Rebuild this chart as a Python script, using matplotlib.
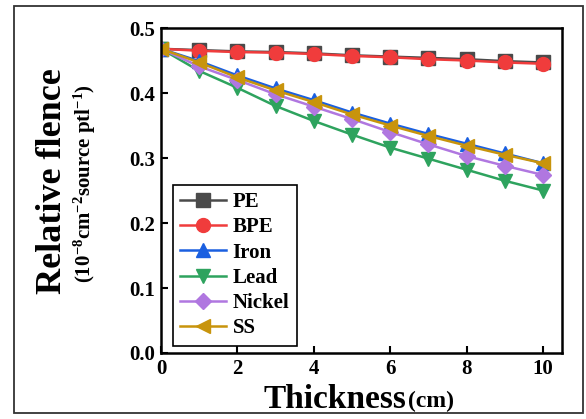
import numpy as np
import matplotlib.pyplot as plt
from matplotlib.patches import Rectangle

plt.rcParams['font.family'] = ['Liberation Serif', 'DejaVu Serif']
plt.rcParams['font.weight'] = 'bold'
plt.rcParams['mathtext.fontset'] = 'custom'
plt.rcParams['mathtext.rm'] = 'Liberation Serif:bold'
plt.rcParams['mathtext.it'] = 'Liberation Serif:bold'
plt.rcParams['mathtext.bf'] = 'Liberation Serif:bold'

thickness = [0, 1, 2, 3, 4, 5, 6, 7, 8, 9, 10]
pe = [0.468, 0.466, 0.464, 0.463, 0.461, 0.458, 0.456, 0.454, 0.452, 0.449, 0.447]
bpe = [0.468, 0.465, 0.463, 0.462, 0.460, 0.457, 0.455, 0.452, 0.450, 0.447, 0.445]
iron = [0.468, 0.449, 0.427, 0.407, 0.389, 0.370, 0.353, 0.337, 0.322, 0.307, 0.292]
lead = [0.468, 0.434, 0.408, 0.380, 0.357, 0.336, 0.316, 0.299, 0.282, 0.265, 0.250]
nickel = [0.468, 0.441, 0.420, 0.398, 0.379, 0.360, 0.340, 0.321, 0.303, 0.288, 0.274]
ss = [0.468, 0.447, 0.424, 0.404, 0.386, 0.367, 0.350, 0.334, 0.319, 0.305, 0.292]

series = [
    ("PE", pe, '#4a4a4a', 's'),
    ("BPE", bpe, '#f03c3c', 'o'),
    ("Iron", iron, '#1a5fe0', '^'),
    ("Lead", lead, '#2ea35e', 'v'),
    ("Nickel", nickel, '#b077e0', 'D'),
    ("SS", ss, '#c8940c', '<'),
]

fig = plt.figure(figsize=(5.86, 4.19), dpi=100)
ax = fig.add_axes([161 / 586, 1 - 353 / 419, (562 - 161) / 586, (353 - 28) / 419])

for name, vals, color, marker in series:
    ms = 8.5 if marker == 'D' else 10
    ax.plot(thickness, vals, color=color, marker=marker, markersize=ms,
            linewidth=1.8, label=name)

ax.set_xlim(0, 10.5)
ax.set_ylim(0, 0.5)
ax.set_xticks([0, 2, 4, 6, 8, 10])
ax.set_yticks([0.0, 0.1, 0.2, 0.3, 0.4, 0.5])
ax.set_yticklabels(['0.0', '0.1', '0.2', '0.3', '0.4', '0.5'])
ax.tick_params(direction='in', length=5, width=1.5, labelsize=15, pad=4)
for lab in ax.get_xticklabels() + ax.get_yticklabels():
    lab.set_fontweight('bold')
for sp in ax.spines.values():
    sp.set_linewidth(1.8)

leg = ax.legend(loc='lower left', bbox_to_anchor=(0.02, 0.01), fontsize=15,
                handlelength=2.2, handletextpad=0.3, labelspacing=0.25,
                borderpad=0.35, borderaxespad=0.2, fancybox=False, framealpha=1,
                edgecolor='black')
leg.get_frame().set_linewidth(1.2)

fig.text(53 / 586, 1 - 181 / 419, 'Relative flence', rotation=90, fontsize=26,
         fontweight='bold', ha='center', va='center')
fig.text(85 / 586, 1 - 184 / 419,
         r'(10$^{-8}$cm$^{-2}$source ptl$^{-1}$)', rotation=90, fontsize=15,
         fontweight='bold', ha='center', va='center')

fig.text(406 / 586, 1 - 399 / 419, 'Thickness', fontsize=24, fontweight='bold',
         ha='right', va='center')
fig.text(408 / 586, 1 - 401 / 419, '(cm)', fontsize=17, fontweight='bold',
         ha='left', va='center')

fig.patches.append(Rectangle((14 / 586, 1 - 413 / 419), (583 - 14) / 586, (413 - 6) / 419,
                             transform=fig.transFigure, fill=False,
                             edgecolor='#333333', linewidth=1.3))

fig.savefig('out.png', dpi=100)
